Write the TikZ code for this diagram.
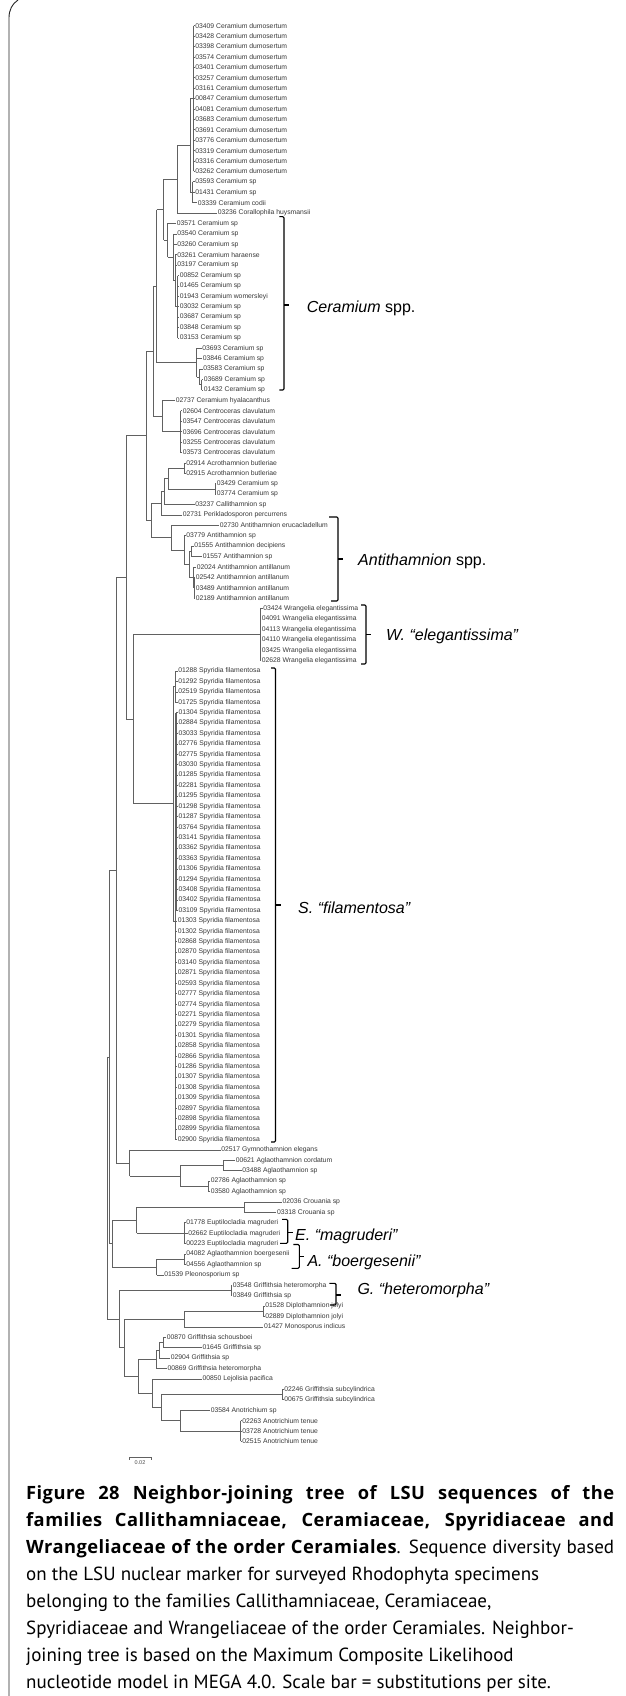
\documentclass[tikz,border=0pt]{standalone}
\usepackage{fontspec}
\setmainfont{Liberation Sans}
\newfontfamily\capfont{PT Sans}
\newfontfamily\capbold{Open Sans Bold}[LetterSpace=2.5]
\usetikzlibrary{calc}
\tikzset{
  x=1pt, y=1pt,
  br/.style={draw=black!62, line width=0.75pt},
  lab/.style={anchor=west, inner sep=0.6pt, text=black!78, font=\fontsize{6.8}{7}\selectfont},
  brk/.style={draw=black, line width=1.1pt, rounded corners=1.2pt},
  clab/.style={anchor=west, inner sep=0pt, font=\fontsize{16}{18}\selectfont\itshape},
  capl/.style={anchor=base west, inner sep=0pt, font=\capfont\fontsize{19}{27}\selectfont},
  framel/.style={draw=black!85, line width=0.9pt},
}
\newcommand\cb[1]{{\capbold\fontsize{18.3}{27}\selectfont #1}}
\newcommand\treeleaf[3]{\coordinate (l#1) at (#2,{-(25.7+(#1-1)*10.41)}); \node[lab] (t#1) at (l#1) {#3};}
\newcommand\treenode[5]{%
  \path let \p1=(#3), \p2=(#4) in coordinate (#1) at (#2,{0.5*(\y1+\y2)});
  \draw[br] (#1 |- #3) -- (#1 |- #4);
  \foreach \c in {#5} {\draw[br] (#1 |- \c) -- (\c);}
}
\newcommand\treerange[4]{%
  \path let \p1=(l#3), \p2=(l#4) in coordinate (#1) at (#2,{0.5*(\y1+\y2)});
  \draw[br] (#1 |- l#3) -- (#1 |- l#4);
  \foreach \k in {#3,...,#4} {\draw[br] (#1 |- l\k) -- (l\k);}
}
\begin{document}
\begin{tikzpicture}
\fill[white] (0,0) rectangle (625,-1696);
\useasboundingbox (0,0) rectangle (625,-1696);
% frame
\draw[framel] (9,-1696) -- (9,-18) .. controls (9,-10) and (12,-4) .. (18,0);
% leaves
\foreach \id [count=\k from 1] in {03409,03428,03398,03574,03401,03257,03161,00847,04081,03683,03691,03776,03319,03316,03262}
  {\treeleaf{\k}{194.5}{\id\ Ceramium dumosertum}}
\treeleaf{16}{194.5}{03593 Ceramium sp}
\treeleaf{17}{194.5}{01431 Ceramium sp}
\treeleaf{18}{197}{03339 Ceramium codii}
\treeleaf{19}{217}{03236 Corallophila huysmansii}
\treeleaf{20}{176}{03571 Ceramium sp}
\treeleaf{21}{176.5}{03540 Ceramium sp}
\treeleaf{22}{176.5}{03260 Ceramium sp}
\treeleaf{23}{176.5}{03261 Ceramium haraense}
\treeleaf{24}{176.5}{03197 Ceramium sp}
\treeleaf{25}{179}{00852 Ceramium sp}
\treeleaf{26}{179}{01465 Ceramium sp}
\treeleaf{27}{179}{01943 Ceramium womersleyi}
\treeleaf{28}{179}{03032 Ceramium sp}
\treeleaf{29}{179}{03687 Ceramium sp}
\treeleaf{30}{179}{03848 Ceramium sp}
\treeleaf{31}{179}{03153 Ceramium sp}
\treeleaf{32}{201.5}{03693 Ceramium sp}
\treeleaf{33}{202}{03846 Ceramium sp}
\treeleaf{34}{202.5}{03583 Ceramium sp}
\treeleaf{35}{203}{03689 Ceramium sp}
\treeleaf{36}{203}{01432 Ceramium sp}
\treeleaf{37}{175}{02737 Ceramium hyalacanthus}
\foreach \id [count=\k from 38] in {02604,03547,03696,03255,03573}
  {\treeleaf{\k}{182}{\id\ Centroceras clavulatum}}
\treeleaf{43}{185.5}{02914 Acrothamnion butleriae}
\treeleaf{44}{185.5}{02915 Acrothamnion butleriae}
\treeleaf{45}{216}{03429 Ceramium sp}
\treeleaf{46}{216}{03774 Ceramium sp}
\treeleaf{47}{194.5}{03237 Callithamnion sp}
\treeleaf{48}{182}{02731 Perikladosporon percurrens}
\treeleaf{49}{219}{02730 Antithamnion erucacladellum}
\treeleaf{50}{185.5}{03779 Antithamnion sp}
\treeleaf{51}{193.5}{01555 Antithamnion decipiens}
\treeleaf{52}{202}{01557 Antithamnion sp}
\treeleaf{53}{196}{02024 Antithamnion antillanum}
\treeleaf{54}{195}{02542 Antithamnion antillanum}
\treeleaf{55}{195}{03489 Antithamnion antillanum}
\treeleaf{56}{195}{02189 Antithamnion antillanum}
\treeleaf{57}{262.5}{03424 Wrangelia elegantissima}
\foreach \id [count=\k from 58] in {04091,04113,04110,03425,02628}
  {\treeleaf{\k}{261}{\id\ Wrangelia elegantissima}}
\foreach \id [count=\k from 63] in {01288,01292,02519,01725}
  {\treeleaf{\k}{177.5}{\id\ Spyridia filamentosa}}
\foreach \id [count=\k from 67] in {01304,02884,03033,02776,02775,03030,01285,02281,01295,01298,01287,03764,03141,03362,03363,01306,01294,03408,03402,03109}
  {\treeleaf{\k}{177.8}{\id\ Spyridia filamentosa}}
\foreach \id [count=\k from 87] in {01303,01302,02868,02870,03140,02871,02593,02777,02774,02271,02279,01301,02858,02866,01286,01307,01308,01309,02897,02898,02899,02900}
  {\treeleaf{\k}{177}{\id\ Spyridia filamentosa}}
\treeleaf{109}{220.5}{02517 Gymnothamnion elegans}
\treeleaf{110}{235}{00621 Aglaothamnion cordatum}
\treeleaf{111}{241.5}{03488 Aglaothamnion sp}
\treeleaf{112}{210}{02786 Aglaothamnion sp}
\treeleaf{113}{210}{03580 Aglaothamnion sp}
\treeleaf{114}{281.7}{02036 Crouania sp}
\treeleaf{115}{276.3}{03318 Crouania sp}
\treeleaf{116}{185.5}{01778 Euptilocladia magruderi}
\treeleaf{117}{187.5}{02662 Euptilocladia magruderi}
\treeleaf{118}{185.5}{00223 Euptilocladia magruderi}
\treeleaf{119}{185.5}{04082 Aglaothamnion boergesenii}
\treeleaf{120}{185.5}{04556 Aglaothamnion sp}
\treeleaf{121}{163.5}{01539 Pleonosporium sp}
\treeleaf{122}{232}{03548 Griffithsia heteromorpha}
\treeleaf{123}{232}{03849 Griffithsia sp}
\treeleaf{124}{264.5}{01528 Diplothamnion jolyi}
\treeleaf{125}{264.5}{02889 Diplothamnion jolyi}
\treeleaf{126}{263.3}{01427 Monosporus indicus}
\treeleaf{127}{166}{00870 Griffithsia schousboei}
\treeleaf{128}{201.7}{01645 Griffithsia sp}
\treeleaf{129}{170}{02904 Griffithsia sp}
\treeleaf{130}{166.7}{00869 Griffithsia heteromorpha}
\treeleaf{131}{201.7}{00850 Lejolisia pacifica}
\treeleaf{132}{283.5}{02246 Griffithsia subcylindrica}
\treeleaf{133}{283.5}{00675 Griffithsia subcylindrica}
\treeleaf{134}{210}{03584 Anotrichium sp}
\treeleaf{135}{241.5}{02263 Anotrichium tenue}
\treeleaf{136}{241.5}{03728 Anotrichium tenue}
\treeleaf{137}{241.5}{02515 Anotrichium tenue}
% internal nodes
\treerange{dum}{193.5}{1}{15}
\treerange{cod}{192.5}{16}{18}
\treenode{n190}{190}{dum}{cod}{dum,cod}
\treenode{n177}{177.3}{n190}{l19}{n190,l19}
\treerange{c4}{177.5}{25}{31}
\treenode{c3}{175}{l23}{c4}{l23,l24,c4}
\treenode{c2}{173.5}{l21}{c3}{l21,l22,c3}
\treenode{n167}{167.5}{l20}{c2}{l20,c2}
\treenode{n163}{163.5}{n177}{n167}{n177,n167}
\treenode{g3}{201.5}{l35}{l36}{l35,l36}
\treenode{g2}{199.5}{l34}{g3}{l34,g3}
\treenode{g1}{196.7}{l32}{g2}{l32,l33,g2}
\treenode{nA}{156.7}{n163}{g1}{n163,g1}
\treerange{cen}{180.5}{38}{42}
\treenode{nC}{162.7}{l37}{cen}{l37,cen}
\treenode{nB}{153}{nA}{nC}{nA,nC}
\treerange{acr}{184.3}{43}{44}
\treerange{cer2}{215}{45}{46}
\treenode{F3}{168.3}{acr}{cer2}{acr,cer2}
\treenode{F2}{164.3}{F3}{l47}{F3,l47}
\treenode{nF}{161}{F2}{l48}{F2,l48}
\treenode{G3}{191.7}{l51}{l52}{l51,l52}
\treerange{G5}{194.3}{54}{56}
\treenode{G4}{193}{l53}{G5}{l53,G5}
\treenode{G2}{189}{G3}{G4}{G3,G4}
\treenode{G1}{184.3}{l50}{G2}{l50,G2}
\treenode{G0}{171}{l49}{G1}{l49,G1}
\treenode{nE}{151.7}{nF}{G0}{nF,G0}
\treenode{nD}{146}{nB}{nE}{nB,nE}
\treerange{wra}{260}{57}{62}
\treerange{sa}{175}{63}{66}
\treerange{sc}{176.3}{67}{86}
\coordinate (sb) at (175,-920.9);
\draw[br] (sb |- l67) -- (sb |- l108);
\draw[br] (sb |- sc) -- (sc);
\foreach \k in {87,...,108} {\draw[br] (sb |- l\k) -- (l\k);}
\treenode{S0}{173.3}{sa}{sb}{sa,sb}
\treenode{nI}{133.3}{wra}{S0}{wra,S0}
\treenode{nH}{126}{nD}{nI}{nD,nI}
\treerange{ag1}{223}{110}{111}
\treerange{ag2}{208.8}{112}{113}
\treenode{ag}{180}{ag1}{ag2}{ag1,ag2}
\treenode{nK}{129.5}{l109}{ag}{l109,ag}
\treenode{nJ}{116}{nH}{nK}{nH,nK}
\treerange{cro}{244.3}{114}{115}
\treerange{eup}{184.3}{116}{118}
\treenode{CE}{136.7}{cro}{eup}{cro,eup}
\treerange{boe}{184.3}{119}{120}
\treenode{AB}{156.7}{boe}{l121}{boe,l121}
\treenode{nM}{112}{CE}{AB}{CE,AB}
\treenode{nL}{109.8}{nJ}{nM}{nJ,nM}
\treerange{gh}{231}{122}{123}
\treerange{dip}{263.3}{124}{125}
\treenode{DM}{184.3}{dip}{l126}{dip,l126}
\treenode{Ga}{163.3}{l127}{l128}{l127,l128}
\treenode{Gb}{159.3}{Ga}{l129}{Ga,l129}
\treenode{Gc}{156}{Gb}{l130}{Gb,l130}
\treerange{sub}{282.7}{132}{133}
\treerange{ten}{240.7}{135}{137}
\treenode{Gf}{180}{l134}{ten}{l134,ten}
\treenode{Ge}{161}{sub}{Gf}{sub,Gf}
\treenode{Gd}{152.7}{l131}{Ge}{l131,Ge}
\treenode{nQ}{138.3}{Gc}{Gd}{Gc,Gd}
\treenode{nP}{124}{DM}{nQ}{DM,nQ}
\treenode{nN}{119.3}{gh}{nP}{gh,nP}
\treenode{nR}{107.3}{nL}{nN}{nL,nN}
% brackets and clade labels
\draw[brk] (279.3,-216.7) -- (284,-216.7) -- (284,-390) -- (279.3,-390);
\draw[brk] (284,-305) -- (289,-305);
\node[clab] (labC) at (306.7,-308) {Ceramium \upshape spp.};
\draw[brk] (329,-517) -- (338,-517) -- (338,-601) -- (331,-601);
\draw[brk] (338,-559) -- (343,-559);
\node[clab] (labA) at (358,-561) {Antithamnion \upshape spp.};
\draw[brk] (361,-605) -- (366,-605) -- (366,-664) -- (361,-664);
\draw[brk] (366,-634.6) -- (371,-634.6);
\node[clab] (labW) at (386,-636) {W. “elegantissima”};
\draw[brk] (271,-668) -- (275.5,-668) -- (275.5,-1142) -- (271,-1142);
\draw[brk] (275.5,-905) -- (281,-905);
\node[clab] (labS) at (298,-908) {S. “filamentosa”};
\draw[brk] (282,-1219.3) -- (287.7,-1219.3) -- (287.7,-1243.3) -- (280,-1243.3);
\draw[brk] (287.7,-1232.7) -- (292.7,-1232.7);
\node[clab] (labE) at (295,-1236) {E. “magruderi”};
\draw[brk] (293.3,-1244.5) -- (299.3,-1244.5) -- (299.3,-1268.3) -- (291.7,-1268.3);
\draw[brk] (299.3,-1256.7) -- (303.5,-1256.7);
\node[clab] (labAb) at (307.3,-1262) {A. “boergesenii”};
\draw[brk] (329.3,-1283.3) -- (336,-1283.3) -- (336,-1305) -- (330,-1305);
\draw[brk] (336,-1295) -- (340.7,-1295);
\node[clab] (labG) at (357.3,-1290) {G. “heteromorpha”};
% scale bar
\coordinate (sbA) at (129,-1457);
\coordinate (sbB) at (151,-1457);
\draw[br] ([yshift=-2.5pt]sbA) -- (sbA) -- (sbB) -- ([yshift=-2.5pt]sbB);
\node[lab, anchor=north, text=black!70, font=\fontsize{5.5}{6}\selectfont] (sbl) at ($(sbA)!0.5!(sbB)+(0,-3)$) {0.02};
% caption
\node[capl] (cap1) at (26,-1499.5) {\makebox[588pt][s]{\cb{Figure 28 Neighbor-joining tree of LSU sequences of the}}};
\node[capl] (cap2) at (26,-1526.5) {\makebox[588pt][s]{\cb{families Callithamniaceae, Ceramiaceae, Spyridiaceae and}}};
\node[capl] (cap3) at (26,-1553.5) {\makebox[588pt][s]{\cb{Wrangeliaceae of the order Ceramiales}. Sequence diversity based}};
\node[capl] (cap4) at (26,-1580.5) {on the LSU nuclear marker for surveyed Rhodophyta specimens};
\node[capl] (cap5) at (26,-1607.5) {belonging to the families Callithamniaceae, Ceramiaceae,};
\node[capl] (cap6) at (26,-1634.5) {Spyridiaceae and Wrangeliaceae of the order Ceramiales. Neighbor-};
\node[capl] (cap7) at (26,-1661.5) {joining tree is based on the Maximum Composite Likelihood};
\node[capl] (cap8) at (26,-1688.5) {nucleotide model in MEGA 4.0. Scale bar = substitutions per site.};
\end{tikzpicture}
\end{document}
